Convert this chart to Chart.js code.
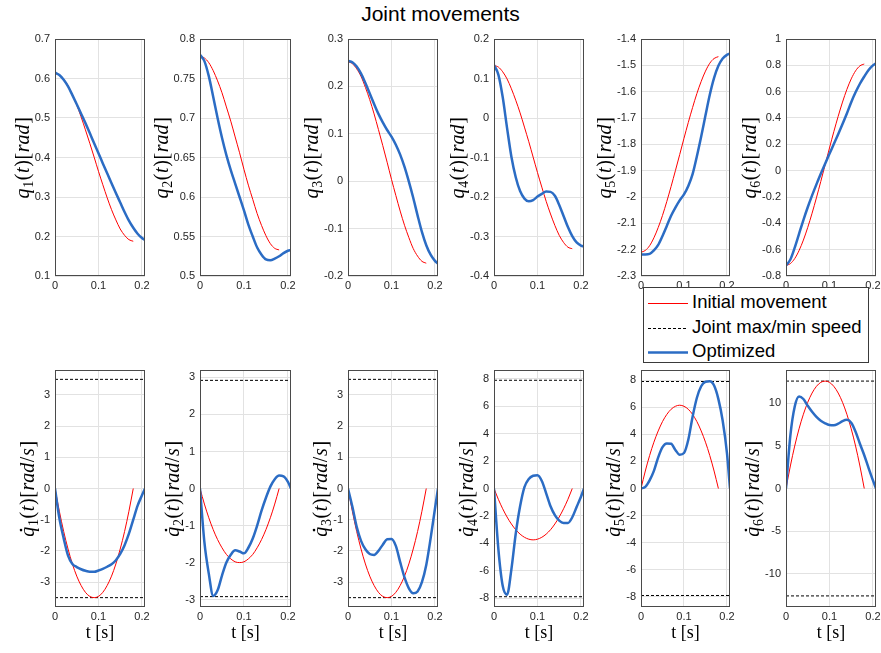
<!DOCTYPE html>
<html><head><meta charset="utf-8">
<script src="https://cdn.jsdelivr.net/npm/chart.js@4.4.1/dist/chart.umd.min.js"></script>
<style>
html,body{margin:0;padding:0;background:#fff;}
#wrap{position:relative;width:881px;height:653px;overflow:hidden;background:#fff;}
.cv{position:absolute;}
#title{position:absolute;left:0;top:2px;width:881px;text-align:center;font:21px 'Liberation Sans',Arial,sans-serif;line-height:24px;color:#000;z-index:5;}
#legend{position:absolute;left:643px;top:287px;width:224px;height:74px;border:1px solid #3a3a3a;background:#fff;z-index:6;}
#legend .it{position:absolute;left:4px;height:24px;width:220px;}
#legend svg{position:absolute;left:0;top:0;}
#legend span{position:absolute;left:44px;top:0;line-height:24px;font:18.5px 'Liberation Sans',Arial,sans-serif;color:#000;white-space:nowrap;}
</style></head>
<body><div id="wrap"><div id="title"></div><div id="legend"></div></div>
<script>
// ---------------- data ----------------
const chartTitle = 'Joint movements';
const legendLabels = ['Initial movement', 'Joint max/min speed', 'Optimized'];
const jointIds = ['1','2','3','4','5','6'];

const tInit = [0,0.01,0.02,0.03,0.04,0.05,0.06,0.07,0.08,0.09,0.10,0.11,0.12,0.13,0.14,0.15,0.16,0.17,0.18];
const tOpt  = [0,0.01,0.02,0.03,0.04,0.05,0.06,0.07,0.08,0.09,0.10,0.11,0.12,0.13,0.14,0.15,0.16,0.17,0.18,0.19,0.20,0.207];
const xMax = 0.207;
const xTickLabels = ['0','0.1','0.2'];

// joint positions, initial movement (rad)
const qInit1 = [0.613,0.609,0.598,0.582,0.559,0.533,0.503,0.470,0.436,0.401,0.365,0.331,0.298,0.268,0.242,0.219,0.203,0.192,0.188];
const qInit2 = [0.778,0.776,0.770,0.760,0.747,0.732,0.714,0.696,0.676,0.656,0.635,0.615,0.597,0.579,0.564,0.551,0.541,0.535,0.533];
const qInit3 = [0.252,0.248,0.237,0.221,0.198,0.172,0.142,0.109,0.075,0.040,0.004,-0.030,-0.063,-0.093,-0.119,-0.142,-0.158,-0.169,-0.173];
const qInit4 = [0.133,0.129,0.117,0.099,0.074,0.045,0.013,-0.023,-0.060,-0.099,-0.138,-0.175,-0.211,-0.243,-0.272,-0.297,-0.315,-0.327,-0.331];
const qInit5 = [-2.210,-2.203,-2.185,-2.155,-2.116,-2.070,-2.017,-1.960,-1.900,-1.839,-1.777,-1.717,-1.660,-1.607,-1.561,-1.522,-1.492,-1.474,-1.467];
const qInit6 = [-0.720,-0.706,-0.668,-0.607,-0.527,-0.431,-0.323,-0.206,-0.082,0.045,0.172,0.296,0.413,0.521,0.617,0.697,0.758,0.796,0.810];

// joint positions, optimized (rad)
const qOpt1 = [0.615,0.609,0.597,0.580,0.558,0.535,0.511,0.487,0.462,0.436,0.411,0.385,0.360,0.335,0.310,0.286,0.262,0.240,0.222,0.207,0.196,0.191];
const qOpt2 = [0.780,0.772,0.753,0.727,0.700,0.675,0.653,0.634,0.617,0.600,0.583,0.565,0.550,0.536,0.527,0.521,0.520,0.522,0.525,0.529,0.532,0.533];
const qOpt3 = [0.254,0.251,0.242,0.227,0.207,0.185,0.163,0.142,0.124,0.108,0.094,0.077,0.056,0.030,-0.001,-0.035,-0.072,-0.107,-0.135,-0.155,-0.168,-0.174];
const qOpt4 = [0.134,0.110,0.053,-0.025,-0.098,-0.150,-0.185,-0.204,-0.211,-0.208,-0.199,-0.192,-0.186,-0.187,-0.197,-0.220,-0.248,-0.276,-0.299,-0.315,-0.323,-0.325];
const qOpt5 = [-2.218,-2.218,-2.216,-2.203,-2.182,-2.148,-2.110,-2.071,-2.040,-2.013,-1.990,-1.958,-1.913,-1.845,-1.770,-1.690,-1.612,-1.548,-1.502,-1.474,-1.460,-1.455];
const qOpt6 = [-0.720,-0.675,-0.585,-0.480,-0.375,-0.278,-0.188,-0.104,-0.024,0.053,0.128,0.202,0.277,0.354,0.434,0.520,0.595,0.660,0.715,0.765,0.800,0.815];

// joint speeds, initial movement (rad/s)
const qdInit1 = [0,-0.73,-1.38,-1.94,-2.42,-2.81,-3.11,-3.33,-3.46,-3.50,-3.46,-3.33,-3.11,-2.81,-2.42,-1.94,-1.38,-0.73,0];
const qdInit2 = [0,-0.42,-0.79,-1.11,-1.38,-1.60,-1.78,-1.90,-1.98,-2.00,-1.98,-1.90,-1.78,-1.60,-1.38,-1.11,-0.79,-0.42,0];
const qdInit3 = [0,-0.73,-1.38,-1.94,-2.42,-2.81,-3.11,-3.33,-3.46,-3.50,-3.46,-3.33,-3.11,-2.81,-2.42,-1.94,-1.38,-0.73,0];
const qdInit4 = [0,-0.79,-1.48,-2.08,-2.59,-3.01,-3.33,-3.56,-3.70,-3.75,-3.70,-3.56,-3.33,-3.01,-2.59,-2.08,-1.48,-0.79,0];
const qdInit5 = [0,1.29,2.43,3.42,4.25,4.94,5.47,5.85,6.07,6.15,6.07,5.85,5.47,4.94,4.25,3.42,2.43,1.29,0];
const qdInit6 = [0,2.64,4.98,7.00,8.71,10.11,11.20,11.98,12.45,12.60,12.45,11.98,11.20,10.11,8.71,7.00,4.98,2.64,0];

// joint speeds, optimized (rad/s)
const qdOpt1 = [0,-0.95,-1.60,-2.15,-2.42,-2.52,-2.59,-2.64,-2.67,-2.67,-2.63,-2.58,-2.51,-2.43,-2.30,-2.10,-1.82,-1.45,-1.00,-0.55,-0.22,0];
const qdOpt2 = [0,-1.45,-2.30,-2.90,-2.75,-2.35,-2.00,-1.79,-1.67,-1.70,-1.75,-1.60,-1.35,-1.00,-0.60,-0.25,0.05,0.25,0.35,0.33,0.18,0];
const qdOpt3 = [0,-0.58,-1.23,-1.68,-1.95,-2.10,-2.13,-2.00,-1.80,-1.63,-1.62,-1.84,-2.36,-2.85,-3.20,-3.36,-3.30,-3.00,-2.45,-1.60,-0.65,0];
const qdOpt4 = [0,-4.40,-7.10,-7.75,-5.90,-3.30,-1.30,0.10,0.70,0.93,0.97,0.55,-0.35,-1.30,-1.95,-2.35,-2.52,-2.52,-2.10,-1.35,-0.60,0];
const qdOpt5 = [0,0.12,0.60,1.30,2.30,3.05,3.32,3.30,2.85,2.50,2.62,3.60,5.30,6.70,7.55,7.88,7.92,7.60,6.60,5.00,2.60,0];
const qdOpt6 = [0,6.20,9.60,10.80,10.50,9.70,9.00,8.40,7.95,7.65,7.45,7.42,7.60,7.90,8.05,7.70,6.65,5.25,3.90,2.40,0.95,0];

// joint speed limits (rad/s)
const speedLimits = [3.5, 2.92, 3.5, 7.9, 7.9, 12.6];

// axis tick labels
const posTickLabels = [
  ['0.1','0.2','0.3','0.4','0.5','0.6','0.7'],
  ['0.5','0.55','0.6','0.65','0.7','0.75','0.8'],
  ['-0.2','-0.1','0','0.1','0.2','0.3'],
  ['-0.4','-0.3','-0.2','-0.1','0','0.1','0.2'],
  ['-2.3','-2.2','-2.1','-2','-1.9','-1.8','-1.7','-1.6','-1.5','-1.4'],
  ['-0.8','-0.6','-0.4','-0.2','0','0.2','0.4','0.6','0.8','1']
];
const velTickLabels = [
  ['-3','-2','-1','0','1','2','3'],
  ['-3','-2','-1','0','1','2','3'],
  ['-3','-2','-1','0','1','2','3'],
  ['-8','-6','-4','-2','0','2','4','6','8'],
  ['-8','-6','-4','-2','0','2','4','6','8'],
  ['-10','-5','0','5','10']
];
const velAxisMax = [3.8, 3.2, 3.8, 8.65, 8.75, 13.9];

const qInit = [qInit1,qInit2,qInit3,qInit4,qInit5,qInit6];
const qOpt = [qOpt1,qOpt2,qOpt3,qOpt4,qOpt5,qOpt6];
const qdInit = [qdInit1,qdInit2,qdInit3,qdInit4,qdInit5,qdInit6];
const qdOpt = [qdOpt1,qdOpt2,qdOpt3,qdOpt4,qdOpt5,qdOpt6];

// ---------------- style / layout ----------------
const RED = '#ff0000', BLUE = '#2b6cc4', GRID = '#e2e2e2', AXIS = '#4a4a4a', TXT = '#262626';
const TICK_FONT = {family:"'Liberation Sans', Arial, Helvetica, sans-serif", size:11};
const MATH_FS = 20;
const COL_L = [55,200,348,494,641,786];
const COL_W = [90,91,90,90,89,90];
const ROW_T = [39,370];
const ROW_H = 237;
const PADL = 72, PADR = 14, PADT = 10, XH = [24,52];

const wrap = document.getElementById('wrap');
document.getElementById('title').textContent = chartTitle;

// legend
(function(){
  const lg = document.getElementById('legend');
  const tops = [3, 28, 52];
  const styles = [
    {c:RED, w:1, d:''},
    {c:'#000', w:1, d:'3,2'},
    {c:BLUE, w:2.5, d:''}
  ];
  legendLabels.forEach((lab,i)=>{
    const it = document.createElement('div');
    it.className='it'; it.style.top = tops[i]+'px';
    const s = styles[i];
    it.innerHTML = `<svg width="42" height="24"><line x1="0" y1="12.5" x2="40" y2="12.5" stroke="${s.c}" stroke-width="${s.w}" ${s.d?`stroke-dasharray="${s.d}"`:''}/></svg><span></span>`;
    it.querySelector('span').textContent = lab;
    lg.appendChild(it);
  });
})();

function pts(xs, ys){ return xs.map((x,i)=>({x:x, y:ys[i]})); }

function drawMath(ctx, cx, cy, parts, fs){
  ctx.save();
  ctx.translate(cx, cy);
  ctx.rotate(-Math.PI/2);
  const fontFor = p => `${p.it?'italic ':''}${p.sub?Math.round(fs*0.7):fs}px 'Liberation Serif','Times New Roman',serif`;
  let total = 0;
  const ws = parts.map(p=>{ ctx.font = fontFor(p); const w = ctx.measureText(p.t).width + 0.6; total += w; return w; });
  let x = -total/2;
  ctx.fillStyle = '#000'; ctx.textAlign='left'; ctx.textBaseline='alphabetic';
  parts.forEach((p,i)=>{
    ctx.font = fontFor(p);
    ctx.fillText(p.t, x, p.sub ? fs*0.2 : 0);
    if (p.dot){ ctx.beginPath(); ctx.arc(x + ws[i]*0.62, -fs*0.66, fs*0.065, 0, Math.PI*2); ctx.fill(); }
    x += ws[i];
  });
  ctx.restore();
}

const decor = {
  id:'decor',
  afterDraw(chart, args, o){
    const ctx = chart.ctx, a = chart.chartArea;
    ctx.save();
    ctx.strokeStyle = AXIS; ctx.lineWidth = 1;
    ctx.strokeRect(a.left+0.5, a.top+0.5, a.right-a.left-1, a.bottom-a.top-1);
    // y label
    ctx.font = `${TICK_FONT.size}px ${TICK_FONT.family}`;
    let mw = 0; o.ticks.forEach(t=>{ mw = Math.max(mw, ctx.measureText(t).width); });
    const tickLeft = a.left - 5 - mw;
    const parts = [{t:'q', it:1, dot:o.vel}, {t:o.joint, sub:1}, {t:'('}, {t:'t', it:1}, {t:')'}, {t:'['}, {t:'rad', it:1}];
    if (o.vel){ parts.push({t:'/'}); parts.push({t:'s', it:1}); }
    parts.push({t:']'});
    drawMath(ctx, tickLeft - 1 - MATH_FS*0.25, (a.top+a.bottom)/2, parts, MATH_FS);
    if (o.vel){
      ctx.fillStyle = '#000'; ctx.textAlign = 'center'; ctx.textBaseline = 'middle';
      ctx.font = `18px 'Liberation Serif','Times New Roman',serif`;
      ctx.fillText('t [s]', (a.left+a.right)/2, a.bottom + 26);
    }
    ctx.restore();
  }
};

function makeChart(row, col){
  const L = COL_L[col], W = COL_W[col], T = ROW_T[row];
  const cw = PADL + W + PADR, ch = PADT + ROW_H + XH[row];
  const cv = document.createElement('canvas');
  cv.className = 'cv';
  cv.width = cw; cv.height = ch;
  cv.style.left = (L-PADL)+'px'; cv.style.top = (T-PADT)+'px';
  cv.style.width = cw+'px'; cv.style.height = ch+'px';
  wrap.appendChild(cv);
  const vel = row === 1;
  const ticks = vel ? velTickLabels[col] : posTickLabels[col];
  const yMin = vel ? -velAxisMax[col] : parseFloat(ticks[0]);
  const yMax = vel ? velAxisMax[col] : parseFloat(ticks[ticks.length-1]);
  const datasets = [];
  datasets.push({data: pts(tOpt, vel ? qdOpt[col] : qOpt[col]), borderColor:BLUE, borderWidth:2.5, cubicInterpolationMode:'monotone', order:0});
  datasets.push({data: pts(tInit, vel ? qdInit[col] : qInit[col]), borderColor:RED, borderWidth:1, cubicInterpolationMode:'monotone', order:1});
  if (vel){
    const lim = speedLimits[col];
    datasets.push({data:[{x:0,y:lim},{x:xMax,y:lim}], borderColor:'#000', borderWidth:1, borderDash:[3,2], order:2});
    datasets.push({data:[{x:0,y:-lim},{x:xMax,y:-lim}], borderColor:'#000', borderWidth:1, borderDash:[3,2], order:2});
  }
  new Chart(cv, {
    type:'line',
    data:{datasets},
    options:{
      responsive:false, animation:false, devicePixelRatio:1,
      layout:{padding:{left:0,right:PADR,top:PADT,bottom:0}},
      elements:{point:{radius:0}},
      plugins:{legend:{display:false}, tooltip:{enabled:false}, title:{display:false},
        decor:{ticks:ticks, joint:jointIds[col], vel:vel}},
      scales:{
        x:{type:'linear', min:0, max:xMax,
          afterBuildTicks(s){ s.ticks = xTickLabels.map(v=>({value:parseFloat(v)})); },
          afterFit(s){ s.height = XH[row]; s.paddingLeft = 0; s.paddingRight = 0; },
          ticks:{callback:(v,i)=>xTickLabels[i], padding:3, font:TICK_FONT, color:TXT, maxRotation:0, autoSkip:false},
          grid:{color:GRID, lineWidth:1, drawTicks:false}, border:{display:false}},
        y:{type:'linear', min:yMin, max:yMax,
          afterBuildTicks(s){ s.ticks = ticks.map(v=>({value:parseFloat(v)})); },
          afterFit(s){ s.width = PADL; s.paddingTop = 0; s.paddingBottom = 0; },
          ticks:{callback:(v,i)=>ticks[i], padding:5, font:TICK_FONT, color:TXT, autoSkip:false},
          grid:{color:GRID, lineWidth:1, drawTicks:false}, border:{display:false}}
      }
    },
    plugins:[decor]
  });
}

for (let r=0;r<2;r++) for (let c=0;c<6;c++) makeChart(r,c);
</script></body></html>
